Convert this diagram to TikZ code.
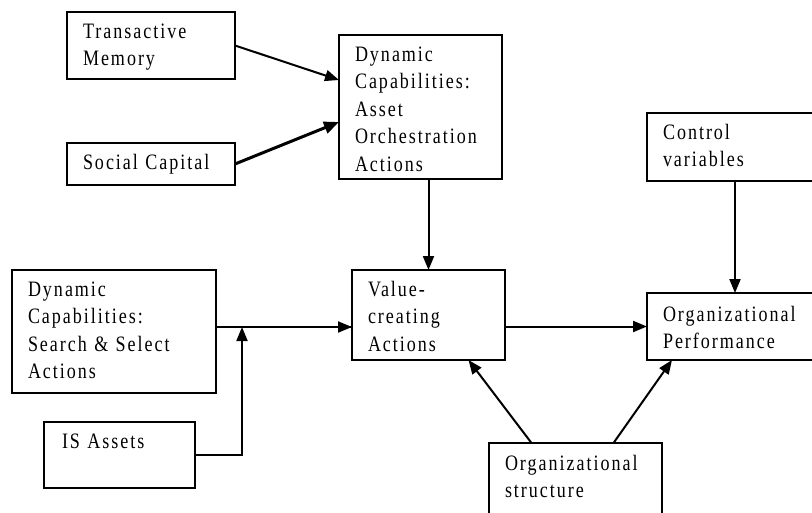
\documentclass[tikz,border=0pt]{standalone}
\usepackage{fontspec}
\setmainfont[FakeStretch=0.82, LetterSpace=9]{Liberation Serif}
\usetikzlibrary{arrows.meta}
\tikzset{
    blk/.style={draw, line width=1.2pt, anchor=north west, outer sep=0pt,
        inner xsep=16pt, inner ysep=0pt, align=left, text height=26pt,
        font=\fontsize{22}{27.5}\selectfont},
    arr/.style={line width=2pt, -{Triangle[length=14pt,width=11pt]}},
}
\begin{document}
\begin{tikzpicture}[x=1pt, y=-1pt]
    \clip (0,0) rectangle (812,512);
    \node[blk, text width=136pt, text depth=41pt] (trans) at (67,12) {Transactive\\Memory};
    \node[blk, text width=136pt, text depth=16pt] (social) at (67,143) {Social Capital};
    \node[blk, text width=131pt, text depth=118pt] (asset) at (339,35) {Dynamic\\Capabilities:\\Asset\\Orchestration\\Actions};
    \node[blk, text width=172pt, text depth=97pt] (search) at (12,270) {Dynamic\\Capabilities:\\Search \& Select\\Actions};
    \node[blk, text width=115pt, text depth=40pt, inner xsep=18pt] (isassets) at (44,422) {IS Assets};
    \node[blk, text width=121pt, text depth=64pt] (value) at (352,270) {Value-\\creating\\Actions};
    \node[blk, text width=144pt, text depth=42pt] (control) at (647,113) {Control\\variables};
    \node[blk, text width=144pt, text depth=39pt, text height=28pt] (perf) at (647,293) {Organizational\\Performance};
    \node[blk, text width=141pt, text depth=58pt, text height=27pt] (struct) at (489,443) {Organizational\\structure};
    \coordinate (j) at (242,327);

    % arrows
    \draw[arr] (trans.east) -- ([yshift=27pt]asset.west);
    \draw[arr, line width=3pt, -{Triangle[length=15pt,width=12pt]}] (social.east) -- ([yshift=-15pt]asset.west);
    \draw[arr] (value.north |- asset.south) -- (value.north);
    \draw[line width=2pt] (search.east |- j) -- (value.west |- j);
    \draw[arr] (j) -- (value.west |- j);
    \draw[arr] (isassets.east) -| (j);
    \draw[arr] (value.east |- perf.west) -- (perf.west);
    \draw[arr] (control.south) -- (perf.north);
    \draw[arr] ([xshift=-44pt]struct.north) -- ([xshift=40pt]value.south);
    \draw[arr] ([xshift=38pt]struct.north) -- ([xshift=-63pt]perf.south);
\end{tikzpicture}
\end{document}
